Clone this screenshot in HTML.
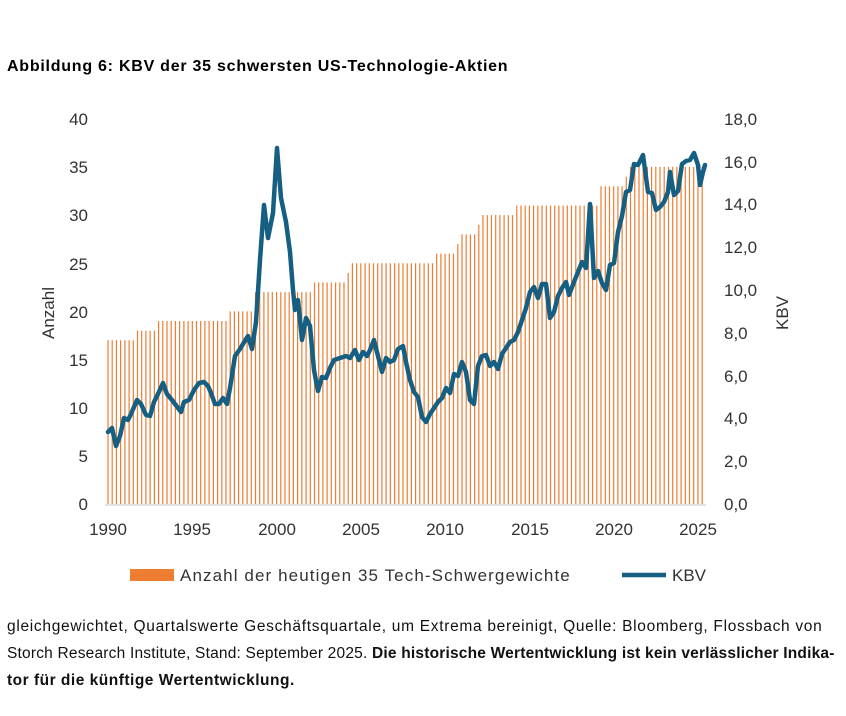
<!DOCTYPE html>
<html><head><meta charset="utf-8"><style>
body{margin:0;background:#fff;width:846px;height:716px;overflow:hidden;font-family:"Liberation Sans",sans-serif;}
.t{position:absolute;left:7px;top:58px;font-weight:bold;font-size:16px;color:#000;letter-spacing:0.75px;white-space:nowrap;}
.f{position:absolute;left:7px;top:613px;font-size:15.5px;line-height:27px;color:#111;white-space:nowrap;}
</style></head><body>
<div class="t">Abbildung 6: KBV der 35 schwersten US-Technologie-Aktien</div>
<svg width="846" height="716" style="position:absolute;left:0;top:0">
<g id="bars" stroke="#ED7D31" stroke-width="1.2"></g>
<line x1="105" y1="505" x2="706" y2="505" stroke="#d9d9d9" stroke-width="1.5"/>
<g font-size="17" fill="#333" text-anchor="end">
<text x="88" y="510">0</text><text x="88" y="462">5</text><text x="88" y="414">10</text><text x="88" y="366">15</text><text x="88" y="318">20</text><text x="88" y="270">25</text><text x="88" y="221">30</text><text x="88" y="173">35</text><text x="88" y="125">40</text>
</g>
<g font-size="17" fill="#333" text-anchor="start">
<text x="724" y="510">0,0</text><text x="724" y="467">2,0</text><text x="724" y="424">4,0</text><text x="724" y="382">6,0</text><text x="724" y="339">8,0</text><text x="724" y="296">10,0</text><text x="724" y="253">12,0</text><text x="724" y="210">14,0</text><text x="724" y="168">16,0</text><text x="724" y="125">18,0</text>
</g>
<g font-size="17" fill="#333" text-anchor="middle">
<text x="108" y="535">1990</text><text x="192" y="535">1995</text><text x="277" y="535">2000</text><text x="361" y="535">2005</text><text x="445" y="535">2010</text><text x="530" y="535">2015</text><text x="614" y="535">2020</text><text x="698" y="535">2025</text>
</g>
<text font-size="17" fill="#333" transform="translate(54,313) rotate(-90)" text-anchor="middle">Anzahl</text>
<text font-size="17" fill="#333" transform="translate(788,313) rotate(-90)" text-anchor="middle">KBV</text>
<polyline fill="none" stroke="#156082" stroke-width="4.5" stroke-linejoin="round" stroke-linecap="round" points="108,432 112,428 116,446 120,436 124,418 128,420 131,414 137,400 141,404 146,415 150,416 154,402 158,394 163,383 167,394 172,400 178,408 181,412 184,402 189,400 194,390 199,383 204,382 208,386 211,393 215,404 219,404 223,398 227,404 230,388 235,356 240,349 246,339 248,336 252,349 256,322 260,260 264,205 268,238 273,213 277,148 281,198 286,222 290,252 293,290 295,310 298,300 302,340 306,318 310,326 314,370 318,391 322,377 326,378 330,368 334,360 340,358 346,356 350,358 355,350 359,360 363,352 367,356 370,350 374,340 378,356 382,372 386,358 390,362 394,360 398,349 403,346 406,362 410,380 414,392 418,397 422,417 426,422 430,414 434,408 438,402 442,398 446,388 450,393 454,374 458,376 462,362 466,372 470,400 474,404 478,366 482,356 486,355 490,366 494,362 498,369 502,354 506,348 510,342 514,340 518,332 522,320 526,308 530,292 534,287 538,298 542,284 546,284 550,318 554,312 558,296 562,288 566,282 569,295 574,282 578,272 582,262 586,268 590,204 594,278 598,271 602,283 606,290 610,265 614,263 618,232 622,216 626,192 630,190 634,164 638,165 643,155 648,192 652,193 656,210 660,207 664,202 668,192 670,172 674,195 678,191 682,164 686,161 690,160 694,153 698,165 700,185 703,172 705,165"/>
<rect x="130" y="569" width="44" height="12" fill="#ED7D31"/>
<text x="180" y="581" font-size="17" fill="#333" letter-spacing="1.1">Anzahl der heutigen 35 Tech-Schwergewichte</text>
<line x1="622" y1="575" x2="666" y2="575" stroke="#156082" stroke-width="4.5"/>
<text x="672" y="581" font-size="17" fill="#333">KBV</text>
</svg>
<div class="f"><span style="letter-spacing:0.7px">gleichgewichtet, Quartalswerte Geschäftsquartale, um Extrema bereinigt, Quelle: Bloomberg, Flossbach von</span><br><span style="letter-spacing:0.2px">Storch Research Institute, Stand: September 2025. <b>Die historische Wertentwicklung ist kein verlässlicher Indika-</b></span><br><b style="letter-spacing:0.5px">tor für die künftige Wertentwicklung.</b></div>
<script>
(function(){
var steps=[[1990,17],[1991.75,18],[1993,19],[1997.25,20],[1998.75,22],[2002.25,23],[2004.25,24],[2004.5,25],[2009.5,26],[2010.75,27],[2011,28],[2012,29],[2012.25,30],[2014.25,31],[2019.25,33],[2020.75,34],[2021,35]];
var g=document.getElementById('bars'),s='';
for(var i=0;i<142;i++){var y=1990+i/4,v=17;for(var j=0;j<steps.length;j++)if(y>=steps[j][0]-0.01)v=steps[j][1];
var x=(108+i*4.214).toFixed(1);s+='<line x1="'+x+'" x2="'+x+'" y1="504" y2="'+(504-v*9.63).toFixed(1)+'"/>';}
g.innerHTML=s;})();
</script>
</body></html>
